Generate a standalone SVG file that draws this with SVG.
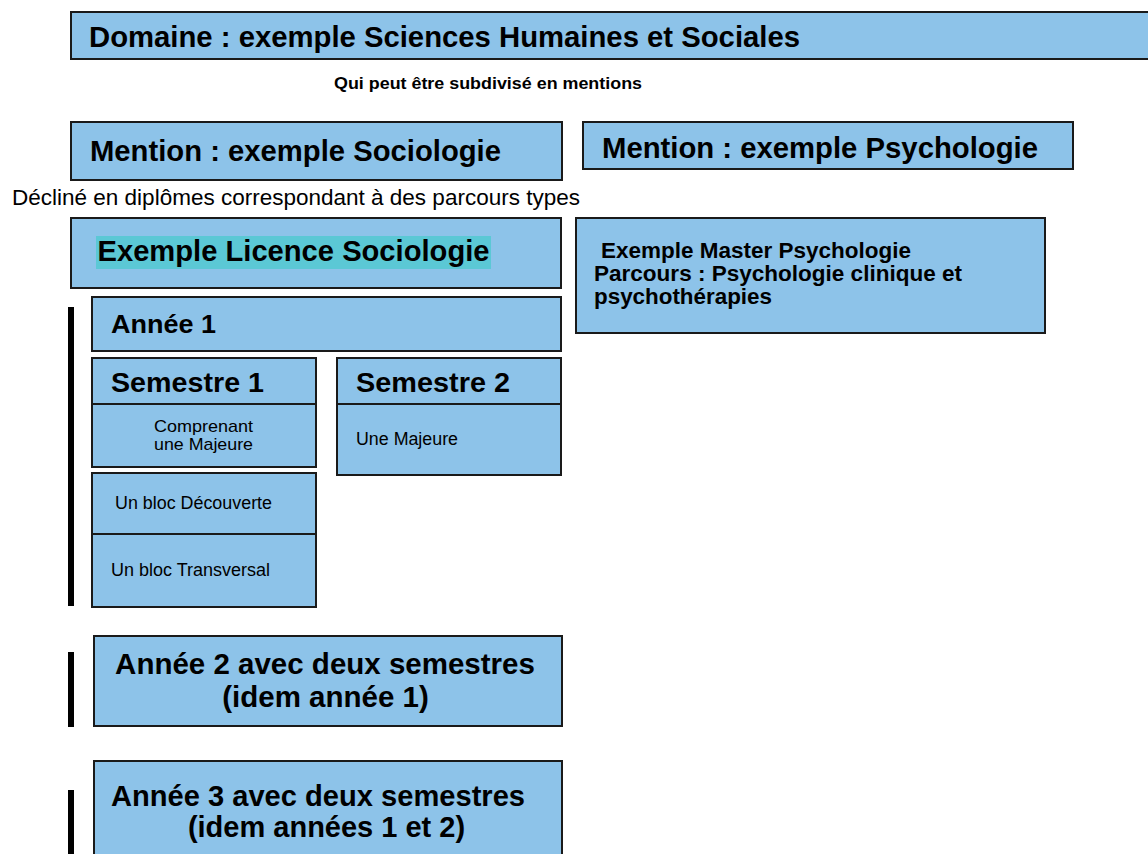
<svg xmlns="http://www.w3.org/2000/svg" width="1148" height="854" viewBox="0 0 1148 854">
<style>
.box{fill:#8DC3E9;stroke:#1a1a1a;stroke-width:2}
.b{font-family:"Liberation Sans",Arial,sans-serif;font-weight:bold;fill:#000}
.r{font-family:"Liberation Sans",Arial,sans-serif;fill:#000}
.bar{fill:#000}
</style>
<rect width="1148" height="854" fill="#fff"/>
<g id="domaine">
<rect class="box" x="71" y="12" width="1082" height="47"/>
<text class="b" x="89" y="47" font-size="29" textLength="711" lengthAdjust="spacingAndGlyphs">Domaine : exemple Sciences Humaines et Sociales</text>
</g>
<g id="note-mentions">
<text class="b" x="334" y="89" font-size="17" textLength="308" lengthAdjust="spacingAndGlyphs">Qui peut être subdivisé en mentions</text>
</g>
<g id="mention-sociologie">
<rect class="box" x="71" y="122" width="491" height="58"/>
<text class="b" x="90" y="161" font-size="29" textLength="411" lengthAdjust="spacingAndGlyphs">Mention : exemple Sociologie</text>
</g>
<g id="mention-psychologie">
<rect class="box" x="583" y="122" width="490" height="47"/>
<text class="b" x="602" y="158" font-size="29" textLength="436" lengthAdjust="spacingAndGlyphs">Mention : exemple Psychologie</text>
</g>
<g id="note-diplomes">
<text class="r" x="12" y="205" font-size="21.5" textLength="568" lengthAdjust="spacingAndGlyphs">Décliné en diplômes correspondant à des parcours types</text>
</g>
<g id="licence-sociologie">
<rect class="box" x="71" y="218" width="490" height="70"/>
<rect x="96" y="236" width="395" height="33" fill="#5BC8D5"/>
<text class="b" x="97.5" y="261" font-size="29" textLength="392" lengthAdjust="spacingAndGlyphs">Exemple Licence Sociologie</text>
</g>
<g id="master-psychologie">
<rect class="box" x="576" y="218" width="469" height="115"/>
<text class="b" x="601" y="257.5" font-size="21.5" textLength="310" lengthAdjust="spacingAndGlyphs">Exemple Master Psychologie</text>
<text class="b" x="594" y="281" font-size="21.5" textLength="368" lengthAdjust="spacingAndGlyphs">Parcours : Psychologie clinique et</text>
<text class="b" x="594" y="303.5" font-size="21.5" textLength="178" lengthAdjust="spacingAndGlyphs">psychothérapies</text>
</g>
<g id="annee-1">
<rect class="box" x="92" y="297" width="469" height="54"/>
<text class="b" x="111" y="333" font-size="26.5" textLength="105" lengthAdjust="spacingAndGlyphs">Année 1</text>
</g>
<g id="semestre-1">
<rect class="box" x="92" y="358" width="224" height="46"/>
<text class="b" x="111" y="392" font-size="28" textLength="153" lengthAdjust="spacingAndGlyphs">Semestre 1</text>
</g>
<g id="semestre-2">
<rect class="box" x="337" y="358" width="224" height="46"/>
<text class="b" x="356" y="392" font-size="28" textLength="154" lengthAdjust="spacingAndGlyphs">Semestre 2</text>
</g>
<g id="s1-majeure">
<rect class="box" x="92" y="404" width="224" height="63"/>
<text class="r" x="154" y="432" font-size="17" textLength="99" lengthAdjust="spacingAndGlyphs">Comprenant</text>
<text class="r" x="154" y="449.5" font-size="17" textLength="99" lengthAdjust="spacingAndGlyphs">une Majeure</text>
</g>
<g id="s2-majeure">
<rect class="box" x="337" y="404" width="224" height="71"/>
<text class="r" x="356" y="445" font-size="17.5" textLength="102" lengthAdjust="spacingAndGlyphs">Une Majeure</text>
</g>
<g id="bloc-decouverte">
<rect class="box" x="92" y="473" width="224" height="61"/>
<text class="r" x="115" y="509" font-size="17.5" textLength="157" lengthAdjust="spacingAndGlyphs">Un bloc Découverte</text>
</g>
<g id="bloc-transversal">
<rect class="box" x="92" y="534" width="224" height="73"/>
<text class="r" x="111" y="576" font-size="17.5" textLength="159" lengthAdjust="spacingAndGlyphs">Un bloc Transversal</text>
</g>
<g id="annee-2">
<rect class="box" x="94" y="636" width="468" height="90"/>
<text class="b" x="325" y="674" font-size="29.5" text-anchor="middle">Année 2 avec deux semestres</text>
<text class="b" x="325.5" y="707" font-size="29.5" text-anchor="middle">(idem année 1)</text>
</g>
<g id="annee-3">
<rect class="box" x="94" y="761" width="468" height="100"/>
<text class="b" x="111" y="806" font-size="29" textLength="414" lengthAdjust="spacingAndGlyphs">Année 3 avec deux semestres</text>
<text class="b" x="326.5" y="837" font-size="29" text-anchor="middle">(idem années 1 et 2)</text>
</g>
<g id="connectors">
<rect class="bar" x="68" y="307" width="6" height="299"/>
<rect class="bar" x="68" y="652" width="6" height="75"/>
<rect class="bar" x="68" y="790" width="6" height="64"/>
</g>
</svg>
